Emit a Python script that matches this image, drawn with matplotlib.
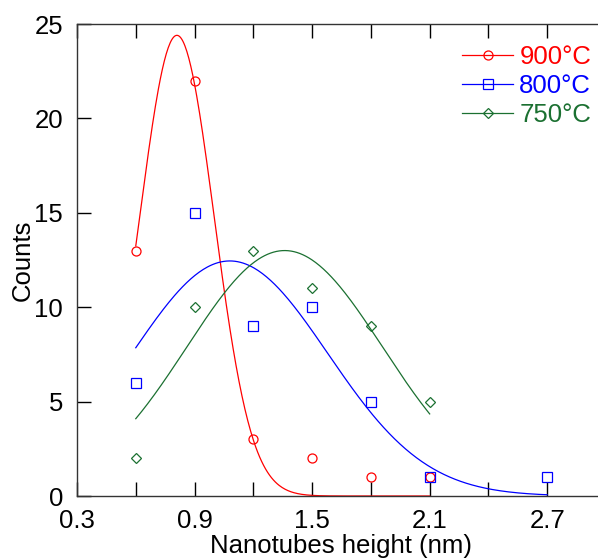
import numpy as np
import matplotlib
matplotlib.use("Agg")
import matplotlib.pyplot as plt
from matplotlib.ticker import MultipleLocator, FuncFormatter

plt.rcParams['font.family'] = ['Liberation Sans', 'DejaVu Sans']

# measured counts per height bin
labels = ['900°C', '800°C', '750°C']
colors = ['#ff0000', '#0000ff', '#1b7031']
markers = ['o', 's', 'D']

x_900 = [0.6, 0.9, 1.2, 1.5, 1.8, 2.1]
y_900 = [13, 22, 3, 2, 1, 1]
x_800 = [0.6, 0.9, 1.2, 1.5, 1.8, 2.1, 2.7]
y_800 = [6, 15, 9, 10, 5, 1, 1]
x_750 = [0.6, 0.9, 1.2, 1.5, 1.8, 2.1]
y_750 = [2, 10, 13, 11, 9, 5]

# gaussian fit parameters: amplitude, centre, sigma, x range
fit_900 = (24.4, 0.81, 0.19, 0.6, 2.1)
fit_800 = (12.45, 1.08, 0.50, 0.6, 2.7)
fit_750 = (13.0, 1.36, 0.50, 0.6, 2.1)


def gauss_curve(params):
    a, mu, s, x0, x1 = params
    xs = np.linspace(x0, x1, 300)
    return xs, a * np.exp(-(xs - mu) ** 2 / (2 * s ** 2))


fig = plt.figure(figsize=(5.98, 5.58), dpi=100)
ax = fig.add_axes([77 / 598, 62 / 558, 529 / 598, 472 / 558])

msizes = {'o': 6.5, 's': 7.0, 'D': 5.5}
series = [(x_900, y_900, fit_900), (x_800, y_800, fit_800), (x_750, y_750, fit_750)]
for (xs, ys, fit), lab, c, m in zip(series, labels, colors, markers):
    ms = msizes[m]
    fx, fy = gauss_curve(fit)
    ax.plot(fx, fy, color=c, lw=0.9)
    ax.plot(xs, ys, linestyle='none', marker=m, mfc='none', mec=c, ms=ms, mew=0.9)
    # legend proxy (line with marker)
    ax.plot([], [], color=c, lw=0.9, marker=m, mfc='none', mec=c, ms=ms, mew=0.9, label=lab)

ax.set_xlim(0.3, 3.0)
ax.set_ylim(0, 25)
ax.xaxis.set_major_locator(MultipleLocator(0.3))
ax.xaxis.set_major_formatter(FuncFormatter(
    lambda v, p: f'{v:.1f}' if abs(((v - 0.3) / 0.6) - round((v - 0.3) / 0.6)) < 1e-6 else ''))
ax.yaxis.set_major_locator(MultipleLocator(5))

ax.tick_params(direction='in', length=10, width=1, labelsize=18.5, top=True, right=False)
ax.tick_params(axis='x', pad=9)
ax.tick_params(axis='y', pad=10)
ax.spines['right'].set_visible(False)
for sp in ['left', 'bottom', 'top']:
    ax.spines[sp].set_linewidth(1)
    ax.spines[sp].set_color('#333333')

ax.set_xlabel('Nanotubes height (nm)', fontsize=18.5, labelpad=1)
ax.set_ylabel('Counts', fontsize=18.5, labelpad=0)

leg = fig.legend(*ax.get_legend_handles_labels(), loc='upper left',
                 bbox_to_anchor=(462 / 598, 1 - 45 / 558), frameon=False, fontsize=18.5,
                 handlelength=2.0, handletextpad=0.23, labelspacing=0.2,
                 borderaxespad=0, borderpad=0)
for txt, c in zip(leg.get_texts(), colors):
    txt.set_color(c)

fig.savefig('out.png', dpi=100)
